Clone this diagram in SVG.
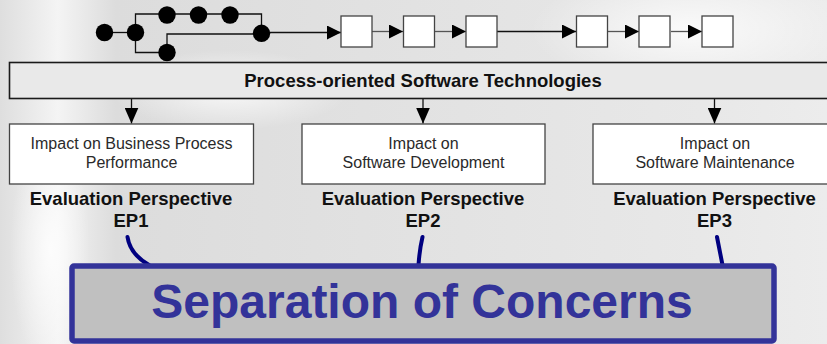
<svg xmlns="http://www.w3.org/2000/svg" width="827" height="344" viewBox="0 0 827 344">
<defs>
<linearGradient id="bg" x1="0" y1="0" x2="1" y2="0">
<stop offset="0" stop-color="#dedede"/>
<stop offset="0.07" stop-color="#f4f4f4"/>
<stop offset="0.14" stop-color="#dcdcdc"/>
<stop offset="0.5" stop-color="#e2e2e2"/>
<stop offset="0.85" stop-color="#e8e8e8"/>
<stop offset="1" stop-color="#ececec"/>
</linearGradient>
<radialGradient id="glow1" cx="0.5" cy="0.5" r="0.5">
<stop offset="0" stop-color="#ffffff" stop-opacity="0.8"/>
<stop offset="1" stop-color="#ffffff" stop-opacity="0"/>
</radialGradient>
<marker id="ah" viewBox="0 0 14 14" refX="14" refY="7" markerWidth="14" markerHeight="14" markerUnits="userSpaceOnUse" orient="auto">
<path d="M0,0 L14,7 L0,14 Z" fill="#000"/>
</marker>
<marker id="ahd" viewBox="0 0 16 14" refX="16" refY="7" markerWidth="16" markerHeight="14" markerUnits="userSpaceOnUse" orient="auto">
<path d="M0,0 L16,7 L0,14 Z" fill="#000"/>
</marker>
<style>
.ln{fill:none;stroke:#111;stroke-width:1.3}
.gl{fill:none;stroke:#555;stroke-width:1.3}
.dot{fill:#000}
.sq{fill:#fff;stroke:#444;stroke-width:1.3}
.bar{fill:#e9e9e9;stroke:#1a1a1a;stroke-width:1.6}
.imp{fill:#fff;stroke:#444;stroke-width:1.3}
.t1{font-family:"Liberation Sans",Arial,sans-serif;font-size:16px;fill:#2a2a2a;text-anchor:middle}
.t2{font-family:"Liberation Sans",Arial,sans-serif;font-size:18.5px;font-weight:bold;fill:#111;text-anchor:middle}
.t3{font-family:"Liberation Sans",Arial,sans-serif;font-size:18.5px;font-weight:bold;fill:#111;text-anchor:middle}
.blue{fill:none;stroke:#000080;stroke-width:4;stroke-linecap:round}
.soc{fill:#c0c0c0;stroke:#333399;stroke-width:5.5}
.tsoc{font-family:"Liberation Sans",Arial,sans-serif;font-size:48px;font-weight:bold;fill:#333399;text-anchor:middle}
</style>
</defs>
<rect x="0" y="0" width="827" height="344" fill="url(#bg)"/>
<ellipse cx="690" cy="30" rx="160" ry="60" fill="url(#glow1)"/>
<ellipse cx="50" cy="250" rx="40" ry="120" fill="url(#glow1)"/>
<ellipse cx="230" cy="90" rx="120" ry="40" fill="url(#glow1)"/>

<g id="connectors">
<path class="ln" d="M104.5,32.5 H135.5"/>
<path class="ln" d="M135.5,32.5 V14 H230 H261.5 V33"/>
<path class="ln" d="M135.5,32.5 V52.5 H167"/>
<path class="ln" d="M167,52.5 V34 H261.5"/>
<path class="ln" d="M270,32.5 H341" marker-end="url(#ah)"/>
<path class="gl" d="M372,31.5 H403" marker-end="url(#ah)"/>
<path class="gl" d="M435,31.5 H466" marker-end="url(#ah)"/>
<path class="ln" d="M497,31.5 H576" stroke-width="2" marker-end="url(#ah)"/>
<path class="gl" d="M608,31.5 H639" marker-end="url(#ah)"/>
<path class="gl" d="M671,31.5 H702" marker-end="url(#ah)"/>
<path class="ln" d="M131.5,99 V123.5" marker-end="url(#ahd)"/>
<path class="ln" d="M423,99 V123.5" marker-end="url(#ahd)"/>
<path class="ln" d="M714.5,99 V123.5" marker-end="url(#ahd)"/>
<path class="blue" d="M127.5,237 Q130,254 149,265"/>
<path class="blue" d="M422.5,237 Q419.5,250 418.5,265"/>
<path class="blue" d="M717,237 Q719.5,250 722.5,265"/>
</g>

<g id="graph">
<circle class="dot" cx="104.5" cy="32.5" r="8.7"/>
<circle class="dot" cx="135.5" cy="32.5" r="8.7"/>
<circle class="dot" cx="167" cy="15" r="8.7"/>
<circle class="dot" cx="198.5" cy="15" r="8.7"/>
<circle class="dot" cx="230" cy="15" r="8.7"/>
<circle class="dot" cx="261.5" cy="33.3" r="8.7"/>
<circle class="dot" cx="167" cy="52.5" r="8.7"/>
</g>

<g id="steps">
<rect class="sq" x="341" y="16" width="31" height="31"/>
<rect class="sq" x="403.5" y="16" width="31" height="31"/>
<rect class="sq" x="466" y="16" width="31" height="31"/>
<rect class="sq" x="576.5" y="16" width="31" height="31"/>
<rect class="sq" x="639" y="16" width="31" height="31"/>
<rect class="sq" x="702" y="16" width="31" height="31"/>
</g>

<g id="pst">
<rect class="bar" x="9.5" y="62.5" width="830" height="36"/>
<text class="t3" x="423" y="86.5">Process-oriented Software Technologies</text>
</g>

<g id="ep1">
<rect class="imp" x="9.5" y="124" width="244" height="60"/>
<text class="t1" x="131.5" y="149">Impact on Business Process</text>
<text class="t1" x="131.5" y="168">Performance</text>
<text class="t2" x="131" y="205">Evaluation Perspective</text>
<text class="t2" x="131" y="227">EP1</text>
</g>

<g id="ep2">
<rect class="imp" x="302" y="124" width="243" height="60"/>
<text class="t1" x="423.5" y="149">Impact on</text>
<text class="t1" x="423.5" y="168">Software Development</text>
<text class="t2" x="423" y="205">Evaluation Perspective</text>
<text class="t2" x="423" y="227">EP2</text>
</g>

<g id="ep3">
<rect class="imp" x="593" y="124" width="250" height="60"/>
<text class="t1" x="715" y="149">Impact on</text>
<text class="t1" x="715" y="168">Software Maintenance</text>
<text class="t2" x="714.5" y="205">Evaluation Perspective</text>
<text class="t2" x="714.5" y="227">EP3</text>
</g>

<g id="soc">
<rect class="soc" x="72" y="266" width="702" height="75" rx="2"/>
<text class="tsoc" x="422" y="317.5">Separation of Concerns</text>
</g>
</svg>
